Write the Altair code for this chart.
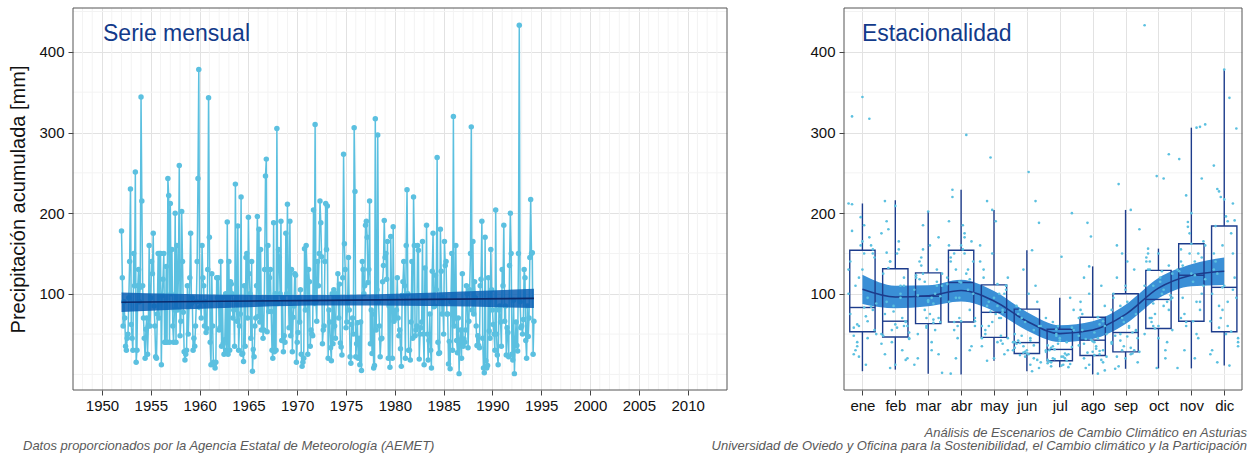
import altair as alt
import pandas as pd

# ---------------- data ----------------
years = list(range(1952, 1995))
month_labels = ["ene", "feb", "mar", "abr", "may", "jun", "jul", "ago", "sep", "oct", "nov", "dic"]

# monthly precipitation [mm], one list per month, indexed by year from 1952
ene = [178, 62, 344, 95, 150, 212, 48, 120, 83, 170, 55, 140, 30, 195, 72, 160, 88, 211, 40, 130, 66, 155,
       100, 58, 22, 185, 317, 145, 75, 110, 160, 12, 84, 50, 320, 35, 165, 45, 80, 130, 25, 60, 150]
feb = [120, 45, 215, 140, 12, 100, 66, 175, 90, 40, 58, 30, 60, 125, 180, 78, 155, 110, 52, 25, 140, 209,
       95, 65, 38, 190, 55, 150, 70, 20, 48, 132, 85, 165, 60, 44, 75, 8, 62, 110, 18, 50, 151]
mar = [60, 30, 110, 125, 98, 155, 202, 88, 70, 12, 140, 115, 75, 100, 65, 120, 145, 58, 95, 130, 110, 20,
       125, 90, 64, 170, 105, 118, 80, 160, 55, 97, 123, 135, 70, 40, 115, 2, 50, 185, 92, 68, 25]
abr = [90, 150, 70, 175, 118, 60, 140, 95, 160, 125, 35, 112, 220, 45, 155, 130, 100, 190, 65, 115, 150, 80,
       70, 145, 20, 114, 297, 165, 120, 229, 60, 185, 105, 140, 160, 55, 95, 170, 30, 66, 1, 130, 66]
may = [70, 110, 45, 85, 150, 40, 77, 30, 120, 60, 95, 100, 25, 140, 55, 78, 190, 48, 105, 35, 215, 65,
       112, 80, 45, 130, 90, 20, 70, 100, 160, 50, 269, 75, 42, 110, 60, 17, 204, 85, 38, 120]
jun = [35, 251, 20, 60, 40, 80, 28, 45, 110, 15, 38, 70, 26, 4, 90, 30, 42, 130, 25, 55, 188, 33,
       39, 22, 12, 215, 60, 85, 48, 30, 154, 18, 40, 75, 27, 100, 36, 8, 50, 24, 65, 42]
jul = [30, 15, 56, 22, 40, 200, 18, 35, 60, 12, 25, 80, 16, 31, 45, 20, 95, 28, 10, 50, 146, 17,
       34, 14, 65, 38, 22, 9, 55, 30, 19, 42, 26, 13, 70, 33, 48, 11, 24, 58, 36, 20]
ago = [45, 30, 70, 20, 134, 40, 25, 60, 90, 8, 43, 35, 110, 22, 55, 188, 28, 71, 15, 48, 38, 100,
       24, 62, 5, 80, 44, 171, 32, 18, 50, 75, 27, 41, 1, 66, 36, 120, 12, 52, 29, 85]
sep = [50, 110, 25, 75, 40, 160, 30, 90, 52, 15, 100, 236, 35, 60, 130, 28, 48, 85, 20, 204, 55, 38,
       120, 70, 140, 26, 45, 95, 10, 65, 58, 30, 180, 7, 42, 105, 33, 54, 80, 22, 150, 47]
oct_ = [95, 130, 60, 150, 243, 80, 110, 140, 57, 120, 30, 93, 145, 70, 246, 100, 40, 125, 156, 88, 60, 105,
        273, 50, 130, 75, 115, 20, 98, 140, 65, 8, 128, 90, 55, 150, 110, 45, 85, 135, 433, 70]
nov = [140, 90, 160, 70, 222, 125, 50, 243, 130, 95, 189, 66, 150, 110, 267, 30, 175, 123, 80, 310, 140, 60,
       162, 306, 100, 8, 135, 183, 115, 45, 165, 128, 75, 150, 20, 307, 118, 155, 65, 200, 90, 145]
dic = [230, 108, 60, 150, 40, 259, 85, 378, 343, 120, 25, 184, 70, 196, 53, 305, 100, 15, 160, 90, 212, 45,
       130, 227, 110, 11, 191, 66, 140, 220, 50, 175, 95, 30, 125, 80, 190, 105, 35, 150, 58, 217]

# linear trend of the monthly series with its confidence band
trend_t = [1952.0, 1962.5, 1973.0, 1983.5, 1994.25]
trend_fit = [89.5, 90.7, 91.9, 93.1, 94.3]
trend_lo = [77.5, 82.5, 85.4, 84.9, 82.3]
trend_hi = [101.5, 98.9, 98.4, 101.3, 106.3]

# seasonal boxplot statistics
box_q1 = [53, 46.5, 63, 65, 46, 26, 17, 23.5, 28, 57, 66, 53]
box_med = [83, 66, 97, 114, 77, 39.5, 31, 42.5, 52, 93, 123, 108]
box_q3 = [154, 131, 126, 154, 111, 81, 56, 71, 100, 129, 162, 184]
box_lo = [4, 6, 1, 0, 17, 4, 9, 0, 7, 7.5, 7.5, 11]
box_hi = [212, 216, 202, 229, 204, 154, 95, 134, 204, 156, 306, 378]

# seasonal smooth with its band
smooth_fit = [105.5, 96, 97.5, 104, 91, 66, 50.6, 55, 74.5, 107, 123, 128]
smooth_half = [18, 14, 13, 13.5, 12.5, 11.5, 10.5, 11, 12, 12.5, 13.5, 17]

year_ticks = list(range(1950, 2011, 5))
minor_years = [y for y in range(1948, 2014) if y % 5 != 0]
month_ticks = list(range(1, 13))
y_ticks = [100, 200, 300, 400]
y_minor = [0, 50, 150, 250, 350, 450]

title_left = "Serie mensual"
title_right = "Estacionalidad"
y_title = "Precipitación acumulada [mm]"
caption_left = "Datos proporcionados por la Agencia Estatal de Meteorología (AEMET)"
caption_right1 = "Análisis de Escenarios de Cambio Climático en Asturias"
caption_right2 = "Universidad de Oviedo y Oficina para la Sostenibilidad, el Cambio climático y la Participación"

# ---------------- tables ----------------
cols = [ene, feb, mar, abr, may, jun, jul, ago, sep, oct_, nov, dic]
rows = []
for yi, y in enumerate(years):
    for mi in range(12):
        if yi < len(cols[mi]):
            rows.append({"year": y, "m": mi + 1, "t": y + mi / 12.0, "p": cols[mi][yi]})
df = pd.DataFrame(rows)

trend_df = pd.DataFrame({"t": trend_t, "fit": trend_fit, "lo": trend_lo, "hi": trend_hi})
box_df = pd.DataFrame({"m": month_ticks, "q1": box_q1, "med": box_med, "q3": box_q3,
                       "lo": box_lo, "hi": box_hi})
smooth_df = pd.DataFrame({"m": month_ticks, "fit": smooth_fit,
                          "lo": [f - h for f, h in zip(smooth_fit, smooth_half)],
                          "hi": [f + h for f, h in zip(smooth_fit, smooth_half)]})
minor_x_df = pd.DataFrame({"t": minor_years})
minor_y_df = pd.DataFrame({"v": y_minor})
one_df = pd.DataFrame({"k": [0]})

# ---------------- style ----------------
FONT = "Liberation Sans"
SERIES = "#5BC0E0"
TREND_BAND = "#0A5FB4"
TREND_LINE = "#0B2A6B"
SMOOTH_BAND = "#3A8FD6"
NAVY = "#1D3C8C"
TITLE_COLOR = "#123A8A"
MINOR = "#F3F3F3"
MAJOR = "#E2E2E2"
BORDER = "#555555"
W_L, W_R, H = 654, 398, 382

y_scale = alt.Scale(domain=[-19.3, 454.4], nice=False, zero=False)
x_scale_l = alt.Scale(domain=[1947.03, 2014.03], nice=False, zero=False)
x_scale_r = alt.Scale(domain=[0.44, 12.54], nice=False, zero=False)

y_axis = alt.Axis(values=y_ticks, title=y_title, titleFontSize=20, titleFontWeight="normal",
                  titlePadding=10, grid=True, gridColor=MAJOR)
y_axis_r = alt.Axis(values=y_ticks, title=None, grid=True, gridColor=MAJOR)
x_axis_l = alt.Axis(values=year_ticks, format="d", title=None, grid=True, gridColor=MAJOR,
                    labelOverlap=False)
label_expr = "[" + ",".join("'%s'" % s for s in month_labels) + "][round(datum.value) - 1]"
x_axis_r = alt.Axis(values=month_ticks, labelExpr=label_expr, title=None, grid=True,
                    gridColor=MAJOR, labelOverlap=False, tickCount=12)


def XL(f):
    return alt.X(f, scale=x_scale_l, axis=x_axis_l)


def XR(f):
    return alt.X(f, scale=x_scale_r, axis=x_axis_r)


def YL(f):
    return alt.Y(f, scale=y_scale, axis=y_axis)


def YR(f):
    return alt.Y(f, scale=y_scale, axis=y_axis_r)


def frame(width):
    return alt.Chart(one_df).mark_rect(fillOpacity=0, stroke=BORDER, strokeWidth=1).encode(
        x=alt.value(0), x2=alt.value(width), y=alt.value(0), y2=alt.value(H))


def label(text, x, y, size, color, align="left", italic=False):
    kw = dict(align=align, baseline="alphabetic", fontSize=size, font=FONT, color=color)
    if italic:
        kw["fontStyle"] = "italic"
    return alt.Chart(pd.DataFrame({"s": [text]})).mark_text(**kw).encode(
        x=alt.value(x), y=alt.value(y), text="s:N")


# ---------------- left panel ----------------
minor_v = alt.Chart(minor_x_df).mark_rule(color=MINOR, strokeWidth=1).encode(x=XL("t:Q"))
minor_h = alt.Chart(minor_y_df).mark_rule(color=MINOR, strokeWidth=1).encode(y=YL("v:Q"))

base_l = alt.Chart(df).encode(x=XL("t:Q"), y=YL("p:Q"))
series_line = base_l.mark_line(color=SERIES, strokeWidth=1.5)
series_pts = base_l.mark_circle(color=SERIES, size=30, opacity=1)

band_l = alt.Chart(trend_df).mark_area(color=TREND_BAND, opacity=0.85, interpolate="monotone").encode(
    x=XL("t:Q"), y=YL("lo:Q"), y2="hi:Q")
trend_l = alt.Chart(trend_df).mark_line(color=TREND_LINE, strokeWidth=1.6).encode(
    x=XL("t:Q"), y=YL("fit:Q"))

left = alt.layer(
    minor_v, minor_h, series_line, series_pts, band_l, trend_l,
    label(title_left, 30, 33, 23, TITLE_COLOR),
    label(caption_left, -50, 442, 13, "#5A5A5A", italic=True),
    frame(W_L)).properties(width=W_L, height=H)

# ---------------- right panel ----------------
minor_h_r = alt.Chart(minor_y_df).mark_rule(color=MINOR, strokeWidth=1).encode(y=YR("v:Q"))

band_r = alt.Chart(smooth_df).mark_area(color=SMOOTH_BAND, opacity=1, interpolate="monotone").encode(
    x=XR("m:Q"), y=YR("lo:Q"), y2="hi:Q")
line_r = alt.Chart(smooth_df).mark_line(color=NAVY, strokeWidth=1.6, interpolate="monotone").encode(
    x=XR("m:Q"), y=YR("fit:Q"))

box_base = alt.Chart(box_df).transform_calculate(xl="datum.m - 0.385", xr="datum.m + 0.385")
whisk_lo = box_base.mark_rule(color=NAVY, strokeWidth=1.4).encode(x=XR("m:Q"), y=YR("lo:Q"), y2="q1:Q")
whisk_hi = box_base.mark_rule(color=NAVY, strokeWidth=1.4).encode(x=XR("m:Q"), y=YR("q3:Q"), y2="hi:Q")
boxes = box_base.mark_rect(fillOpacity=0, stroke=NAVY, strokeWidth=1.4).encode(
    x=XR("xl:Q"), x2="xr:Q", y=YR("q1:Q"), y2="q3:Q")
medians = box_base.mark_rule(color=NAVY, strokeWidth=1.4).encode(x=XR("xl:Q"), x2="xr:Q", y=YR("med:Q"))

jit = alt.Chart(df).transform_calculate(
    xj="datum.m + ((datum.year * 37 + datum.m * 11) % 17 - 8) / 19").mark_circle(
    color=SERIES, size=7, opacity=1).encode(x=XR("xj:Q"), y=YR("p:Q"))

right = alt.layer(
    minor_h_r, band_r, line_r, whisk_lo, whisk_hi, boxes, medians, jit,
    label(title_right, 18, 33, 23, TITLE_COLOR),
    label(caption_right1, 403, 429, 13, "#5A5A5A", align="right", italic=True),
    label(caption_right2, 403, 442, 13, "#5A5A5A", align="right", italic=True),
    frame(W_R)).properties(width=W_R, height=H)

chart = alt.hconcat(left, right, spacing=117, bounds="flush").properties(
    padding={"left": 8, "top": 7, "right": 5, "bottom": 0}, background="white"
).configure_view(stroke="transparent", strokeWidth=0).configure_axis(
    labelFont=FONT, titleFont=FONT, labelFontSize=15, labelColor="#111111", titleColor="#111111",
    tickColor="#444444", tickSize=5, labelPadding=3, domain=False, gridWidth=1
).configure_axisY(labelPadding=4)

chart.save("out.html", embed_options={"renderer": "svg", "actions": False})
